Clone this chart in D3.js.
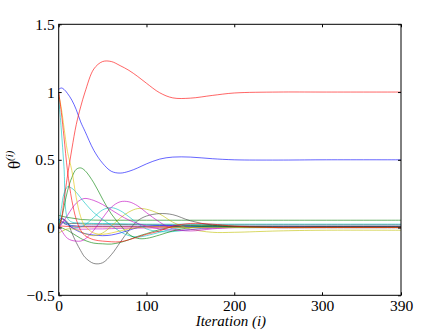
<!DOCTYPE html>
<html>
<head>
<meta charset="utf-8">
<script src="https://cdn.jsdelivr.net/npm/d3@7"></script>
<style>
  body { margin: 0; background: #fff; }
  svg text { font-family: "Liberation Serif", "Times New Roman", serif; }
</style>
</head>
<body>
<svg id="chart" width="443" height="333"></svg>
<script>
var iters = [0, 3, 6, 10, 15, 20, 25, 30, 40, 50, 60, 70, 80, 90, 100, 115, 130, 150, 175, 200, 250, 300, 390];

var blueMain   = [1.02, 1.03, 1.02, 0.99, 0.94, 0.87, 0.78, 0.71, 0.57, 0.475, 0.415, 0.402, 0.415, 0.44, 0.47, 0.505, 0.52, 0.52, 0.508, 0.5, 0.498, 0.5, 0.5];
var greenA     = [0, 0.06, 0.15, 0.27, 0.37, 0.43, 0.44, 0.42, 0.33, 0.21, 0.1, 0.02, -0.05, -0.08, -0.08, -0.055, -0.025, 0, 0.01, 0.005, 0, 0, 0];
var redMain    = [0, 0.06, 0.2, 0.38, 0.58, 0.76, 0.89, 1.0, 1.17, 1.225, 1.225, 1.195, 1.16, 1.115, 1.065, 0.995, 0.957, 0.955, 0.975, 0.993, 1.0, 1.0, 1.0];
var cyanA      = [0, 0.14, 0.25, 0.3, 0.29, 0.26, 0.22, 0.18, 0.11, 0.06, 0.015, -0.03, -0.06, -0.07, -0.06, -0.035, -0.01, 0.005, 0.005, 0, 0, 0, 0];
var magentaA   = [0, 0.02, 0.05, 0.09, 0.14, 0.18, 0.205, 0.215, 0.2, 0.17, 0.13, 0.09, 0.055, 0.03, 0.01, -0.01, -0.02, -0.015, -0.005, 0, 0, 0, 0];
var yellowA    = [-0.04, -0.03, -0.02, -0.01, -0.01, -0.015, -0.03, -0.045, -0.06, -0.04, 0.01, 0.07, 0.115, 0.14, 0.135, 0.1, 0.04, -0.01, -0.035, -0.035, -0.025, -0.02, -0.02];
var grayA      = [0.03, 0.06, 0.06, 0.04, -0.04, -0.11, -0.17, -0.22, -0.265, -0.26, -0.2, -0.11, -0.02, 0.05, 0.085, 0.103, 0.095, 0.05, 0.018, 0.005, 0, 0.005, 0.005];
var blueB      = [0.05, 0.07, 0.06, 0.03, 0, -0.02, -0.035, -0.045, -0.055, -0.06, -0.055, -0.04, -0.02, 0, 0.01, 0.015, 0.015, 0.01, 0.005, 0.005, 0.005, 0.005, 0.005];
var greenB     = [0.09, 0.085, 0.08, 0.075, 0.07, 0.065, 0.06, 0.058, 0.055, 0.054, 0.054, 0.054, 0.054, 0.054, 0.054, 0.054, 0.054, 0.054, 0.054, 0.054, 0.054, 0.054, 0.054];
var redB       = [1.0, 0.85, 0.67, 0.42, 0.2, 0.06, -0.02, -0.06, -0.09, -0.1, -0.105, -0.105, -0.09, -0.07, -0.05, -0.025, 0.01, 0.03, 0.025, 0.01, 0, 0, 0];
var cyanB      = [0, 0.03, 0.04, 0.03, 0.01, 0, 0.005, 0.02, 0.075, 0.13, 0.147, 0.125, 0.08, 0.03, -0.01, -0.03, -0.03, -0.015, 0, 0, 0, 0, 0];
var magentaB   = [0, -0.02, -0.05, -0.08, -0.095, -0.1, -0.1, -0.085, -0.02, 0.07, 0.15, 0.19, 0.19, 0.16, 0.11, 0.04, -0.01, -0.025, -0.01, 0, 0, 0, 0];
var yellowB    = [0.98, 0.88, 0.74, 0.56, 0.42, 0.22, 0.08, 0.01, -0.04, -0.05, -0.04, -0.025, -0.01, 0, 0.005, 0.005, 0, 0, 0, 0, 0, 0, 0];
var grayB      = [0.02, 0.04, 0.035, 0.03, 0.03, 0.03, 0.028, 0.026, 0.025, 0.024, 0.024, 0.023, 0.022, 0.022, 0.021, 0.02, 0.02, 0.02, 0.02, 0.02, 0.02, 0.02, 0.02];
var blueC      = [0.06, 0.05, 0.03, 0.02, 0.015, 0.012, 0.01, 0.01, 0.01, 0.01, 0.01, 0.01, 0.01, 0.01, 0.01, 0.01, 0.01, 0.01, 0.01, 0.01, 0.01, 0.01, 0.01];
var greenC     = [0, 0, -0.01, -0.02, -0.04, -0.06, -0.08, -0.095, -0.115, -0.12, -0.122, -0.11, -0.09, -0.065, -0.045, -0.015, 0.005, 0.015, 0.015, 0.01, 0.005, 0.005, 0.005];
var redC       = [0.0, 0.01, 0.01, 0.008, 0.006, 0.005, 0.005, 0.005, 0.005, 0.005, 0.005, 0.005, 0.005, 0.005, 0.005, 0.005, 0.005, 0.005, 0.005, 0.005, 0.005, 0.005, 0.005];
var cyanC      = [0.96, 0.72, 0.45, 0.07, 0.04, 0.035, 0.033, 0.032, 0.03, 0.03, 0.03, 0.028, 0.027, 0.026, 0.025, 0.025, 0.025, 0.025, 0.025, 0.025, 0.025, 0.025, 0.025];
var magentaC   = [-0.01, 0.03, 0.05, 0.03, 0.0, -0.01, -0.012, -0.012, -0.01, -0.01, -0.008, -0.006, -0.005, -0.004, -0.003, -0.002, 0, 0, 0, 0, 0, 0, 0];

var seriesNames = ["blueC", "redC", "grayB", "magentaC", "greenB", "cyanC", "blueB", "greenC", "yellowA", "grayA", "cyanB", "magentaB",
                   "magentaA", "cyanA", "greenA", "yellowB", "redB", "blueMain", "redMain"];
var seriesValues = [blueC, redC, grayB, magentaC, greenB, cyanC, blueB, greenC, yellowA, grayA, cyanB, magentaB,
                    magentaA, cyanA, greenA, yellowB, redB, blueMain, redMain];
var seriesColors = ["#0000c0", "#ff0000", "#404040", "#bf00bf", "#008000", "#00bfbf", "#0000ff", "#008000", "#bfbf00", "#404040", "#00bfbf", "#bf00bf",
                    "#bf00bf", "#00bfbf", "#008000", "#e0c000", "#ff0000", "#0000ff", "#ff0000"];

var xTicks = [0, 100, 200, 300, 390];
var yTicks = [-0.5, 0, 0.5, 1, 1.5];

var plotL = 58.7, plotR = 401, plotT = 24.3, plotB = 295.3;
var serif = '"Liberation Serif", "Times New Roman", serif';

var svg = d3.select("#chart");

var x = d3.scaleLinear().domain([0, 390]).range([plotL, plotR]);
var y = d3.scaleLinear().domain([-0.5, 1.5]).range([plotB, plotT]);

var line = d3.line()
  .x(function(d) { return x(d[0]); })
  .y(function(d) { return y(d[1]); })
  .curve(d3.curveCatmullRom.alpha(0.5));

svg.append("g")
  .selectAll("path")
  .data(seriesValues)
  .enter().append("path")
  .attr("class", function(d, i) { return "series " + seriesNames[i]; })
  .attr("fill", "none")
  .attr("stroke", function(d, i) { return seriesColors[i]; })
  .attr("stroke-opacity", 0.6)
  .attr("stroke-width", 1)
  .attr("d", function(vals) {
    return line(iters.map(function(it, j) { return [it, vals[j]]; }));
  });

// box with inward ticks, matlab style
svg.append("rect")
  .attr("x", plotL).attr("y", plotT)
  .attr("width", plotR - plotL).attr("height", plotB - plotT)
  .attr("fill", "none").attr("stroke", "#000").attr("stroke-width", 1);

var tl = 3;
var xAxisB = d3.axisBottom(x).tickValues(xTicks).tickSizeInner(-tl).tickSizeOuter(0).tickPadding(5)
  .tickFormat(d3.format("d"));
var gx = svg.append("g").attr("transform", "translate(0," + plotB + ")").call(xAxisB);
gx.select(".domain").remove();
gx.selectAll("text").style("font-size", "15.5px").style("font-family", serif).attr("fill", "#000");

var gxt = svg.append("g").attr("transform", "translate(0," + plotT + ")")
  .call(d3.axisTop(x).tickValues(xTicks).tickSizeInner(-tl).tickSizeOuter(0).tickFormat(""));
gxt.select(".domain").remove();

var yAxisL = d3.axisLeft(y).tickValues(yTicks).tickSizeInner(-tl).tickSizeOuter(0).tickPadding(4)
  .tickFormat(function(d) { return d < 0 ? "\u2212" + Math.abs(d) : String(d); });
var gy = svg.append("g").attr("transform", "translate(" + plotL + ",0)").call(yAxisL);
gy.select(".domain").remove();
gy.selectAll("text").style("font-size", "15.5px").style("font-family", serif).attr("fill", "#000");

var gyr = svg.append("g").attr("transform", "translate(" + plotR + ",0)")
  .call(d3.axisRight(y).tickValues(yTicks).tickSizeInner(-tl).tickSizeOuter(0).tickFormat(""));
gyr.select(".domain").remove();

svg.selectAll(".tick line").attr("stroke", "#000");

// axis labels
svg.append("text")
  .attr("x", (plotL + plotR) / 2 + 1)
  .attr("y", 326)
  .attr("text-anchor", "middle")
  .style("font-size", "15px")
  .style("font-family", serif)
  .style("font-style", "italic")
  .text("Iteration (i)");

var yl = svg.append("text")
  .attr("transform", "translate(20," + ((plotT + plotB) / 2) + ") rotate(-90)")
  .attr("text-anchor", "middle")
  .style("font-family", serif)
  .style("font-size", "17px");
yl.append("tspan").text("\u03b8");
yl.append("tspan").attr("dy", -7).style("font-size", "11px").style("font-style", "italic").text("(i)");
</script>
</body>
</html>
